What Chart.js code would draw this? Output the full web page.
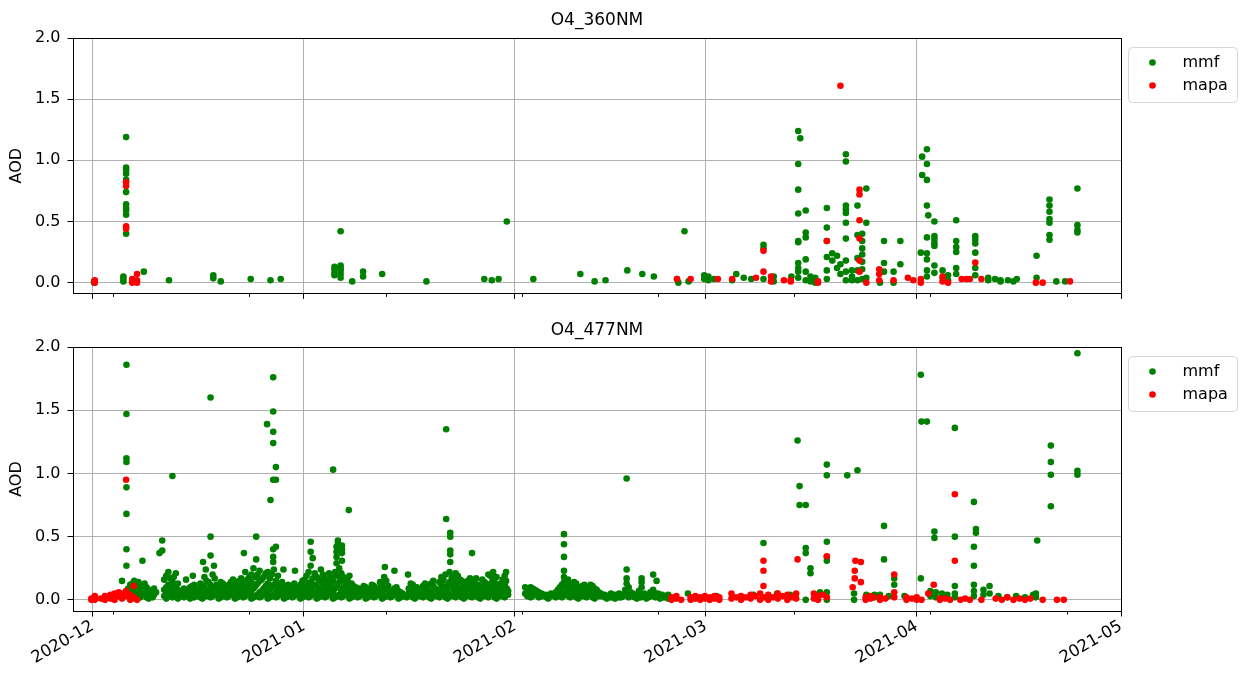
<!DOCTYPE html>
<html lang="en">
<head>
<meta charset="UTF-8">
<title>O4 AOD</title>
<script src="https://cdn.jsdelivr.net/npm/chart.js@4.4.0/dist/chart.umd.min.js"></script>
<style>
  html, body { margin: 0; padding: 0; background: #fff; }
  #wrap { position: relative; width: 1240px; height: 675px; }
  #c360 { position: absolute; left: 0; top: 0; }
  #c477 { position: absolute; left: 0; top: 310px; }
</style>
</head>
<body>
<div id="wrap">
  <canvas id="c360" width="1240" height="310"></canvas>
  <canvas id="c477" width="1240" height="365"></canvas>
</div>
<script>
// x values are days since 2020-12-01; each row is [day, aod, aod, ...]
const majorDays = [0, 31, 62, 90, 121, 151];
const majorLabels = ['2020-12', '2021-01', '2021-02', '2021-03', '2021-04', '2021-05'];
const minorDays = [3, 23, 43, 63, 83, 103, 123, 143];
const yTicks = [0, 0.5, 1.0, 1.5, 2.0];

const mmf360 = [
  [0.2, 0.0, 0.01], [4.5, 0.03, 0.05, 0.01],
  [4.9, 1.19, 0.94, 0.92, 0.89, 0.84, 0.74, 0.64, 0.61, 0.59, 0.555, 0.40],
  [7.5, 0.09], [11.2, 0.02], [17.7, 0.06, 0.035], [18.8, 0.01], [23.2, 0.03],
  [26.1, 0.02], [27.6, 0.03], [35.5, 0.13, 0.11, 0.08, 0.06],
  [36.4, 0.42, 0.14, 0.12, 0.10, 0.07, 0.04], [38.1, 0.01], [39.7, 0.09, 0.05],
  [42.5, 0.07], [49.0, 0.01], [57.5, 0.03], [58.6, 0.02], [59.6, 0.03], [60.8, 0.50],
  [64.7, 0.03], [71.6, 0.07], [73.7, 0.01], [75.3, 0.02], [78.5, 0.10], [80.7, 0.07],
  [82.4, 0.05], [85.8, 0.03], [86.0, 0.0], [86.9, 0.42], [87.5, 0.01],
  [89.8, 0.06, 0.03], [90.4, 0.05, 0.02], [91.2, 0.03], [93.9, 0.02], [94.5, 0.07],
  [95.6, 0.04], [96.7, 0.03], [98.5, 0.31, 0.28, 0.03], [100.0, 0.05, 0.01], [102.6, 0.05],
  [103.6, 1.24, 0.97, 0.76, 0.565, 0.34, 0.33, 0.16, 0.12, 0.09, 0.04], [103.9, 1.18],
  [104.7, 0.59, 0.41, 0.37, 0.19, 0.09, 0.02], [105.4, 0.05, 0.01], [106.1, 0.04, 0.0],
  [107.8, 0.61, 0.45, 0.34, 0.21, 0.10, 0.03], [108.6, 0.24, 0.18], [109.3, 0.22, 0.12],
  [109.8, 0.15, 0.07], [110.6, 1.05, 0.99, 0.63, 0.60, 0.57, 0.49, 0.36, 0.18, 0.09, 0.02],
  [111.5, 0.10, 0.02, 0.05], [112.3, 0.63, 0.39, 0.20, 0.10, 0.02],
  [113.0, 0.40, 0.34, 0.28, 0.23, 0.17, 0.11, 0.03], [113.6, 0.77, 0.49, 0.04],
  [115.6, 0.0], [116.2, 0.34, 0.16, 0.09], [117.6, 0.09, 0.0], [118.6, 0.34, 0.15],
  [121.6, 0.245], [121.8, 1.03, 0.88], [122.5, 1.09, 0.97, 0.84, 0.63, 0.37, 0.24, 0.19, 0.10, 0.05],
  [122.7, 0.55], [123.6, 0.50, 0.38, 0.35, 0.32, 0.30, 0.14, 0.08], [124.8, 0.10, 0.04],
  [125.6, 0.06, 0.02], [126.8, 0.51, 0.34, 0.29, 0.25, 0.12, 0.07],
  [129.6, 0.38, 0.35, 0.32, 0.245, 0.12, 0.06], [131.5, 0.04, 0.02], [132.5, 0.03],
  [133.3, 0.02, 0.01], [134.4, 0.02], [135.2, 0.01], [135.7, 0.03], [138.6, 0.22, 0.04],
  [140.5, 0.68, 0.63, 0.58, 0.52, 0.49, 0.39, 0.35], [141.5, 0.01], [142.8, 0.01],
  [144.6, 0.77, 0.47, 0.43, 0.41]
];

const mapa360 = [
  [0.3, 0.02, 0.0, 0.01], [4.9, 0.82, 0.79, 0.46, 0.44], [5.8, 0.03, 0.0, 0.01],
  [6.5, 0.07, 0.02, 0.0], [85.8, 0.03], [87.8, 0.03], [91.8, 0.03], [93.9, 0.03],
  [97.4, 0.04], [98.5, 0.26, 0.09], [99.6, 0.05, 0.01], [101.5, 0.02], [102.5, 0.01, 0.02],
  [106.5, 0.01, 0.0], [107.8, 0.34], [109.8, 1.61], [112.6, 0.76, 0.72, 0.51, 0.36, 0.18, 0.09],
  [113.6, 0.0], [115.5, 0.11, 0.07, 0.02], [117.6, 0.02], [119.7, 0.04], [120.5, 0.02],
  [121.6, 0.03, 0.0], [124.8, 0.05, 0.01], [125.6, 0.0], [127.6, 0.03], [128.3, 0.03],
  [128.8, 0.03], [129.6, 0.165], [130.5, 0.03], [138.5, 0.0], [139.5, 0.0], [143.5, 0.01]
];

const mmf477 = [
  // December
  [4.3, 0.15], [4.95, 1.86, 1.47, 1.12, 1.09, 0.89, 0.68, 0.40, 0.27],
  [5.2, 0.05, 0.09], [5.5, 0.02, 0.07, 0.12], [5.8, 0.01, 0.05, 0.13], [6.1, 0.04, 0.10, 0.15],
  [6.4, 0.06, 0.11], [6.7, 0.03, 0.08, 0.14], [7.0, 0.02, 0.05, 0.09],
  [7.3, 0.31, 0.05, 0.11], [7.6, 0.07, 0.13], [7.9, 0.02, 0.06, 0.10], [8.2, 0.01, 0.04, 0.08],
  [8.5, 0.03, 0.07], [8.8, 0.02, 0.05], [9.0, 0.04, 0.09], [9.3, 0.06],
  [9.8, 0.37], [10.2, 0.47, 0.39], [10.5, 0.03, 0.08, 0.16], [10.8, 0.01, 0.06, 0.10, 0.19],
  [11.1, 0.05, 0.12, 0.22], [11.4, 0.03, 0.09, 0.17], [11.7, 0.98, 0.02, 0.07, 0.14],
  [11.9, 0.05, 0.11, 0.18], [12.2, 0.04, 0.10, 0.21], [12.5, 0.01, 0.08, 0.13], [12.8, 0.03, 0.06],
  [13.1, 0.04, 0.07], [13.4, 0.02, 0.05, 0.09], [13.7, 0.16], [14.0, 0.04, 0.08],
  [14.3, 0.01, 0.06, 0.10], [14.6, 0.03, 0.06, 0.11], [14.7, 0.19], [14.9, 0.02, 0.07, 0.12],
  [15.2, 0.05, 0.09], [15.5, 0.03, 0.08], [15.8, 0.02, 0.07, 0.13], [16.1, 0.01, 0.05, 0.11],
  [16.2, 0.30], [16.4, 0.04, 0.10, 0.18], [16.6, 0.24], [16.7, 0.03, 0.08, 0.15],
  [17.0, 0.06, 0.14], [17.3, 1.60, 0.50, 0.35, 0.02, 0.07, 0.12], [17.6, 0.03, 0.09, 0.20],
  [17.8, 0.27], [17.9, 0.04, 0.10, 0.17], [18.2, 0.05, 0.12], [18.5, 0.01, 0.06, 0.09],
  [18.8, 0.02, 0.07, 0.14], [19.1, 0.03, 0.08, 0.13], [19.4, 0.04, 0.10], [19.7, 0.02, 0.05, 0.11],
  [20.0, 0.03, 0.06, 0.12], [20.3, 0.04, 0.07, 0.14], [20.6, 0.05, 0.09, 0.16],
  [20.9, 0.01, 0.06, 0.12], [21.2, 0.02, 0.07], [21.5, 0.03, 0.09, 0.15],
  [21.8, 0.04, 0.11, 0.17], [22.1, 0.02, 0.06, 0.13], [22.2, 0.37], [22.4, 0.03, 0.08, 0.22],
  [22.7, 0.04, 0.10, 0.16], [23.0, 0.05, 0.12, 0.18], [23.3, 0.01, 0.07, 0.14, 0.20],
  [23.6, 0.02, 0.09, 0.25], [23.9, 0.03, 0.11, 0.18], [24.0, 0.50, 0.32],
  [24.2, 0.04, 0.13, 0.20], [24.5, 0.02, 0.06, 0.15, 0.23], [24.8, 0.03, 0.07, 0.16],
  [25.1, 0.04, 0.09, 0.18], [25.4, 0.05, 0.11, 0.21], [25.6, 1.39], [25.7, 0.01, 0.07, 0.13, 0.22],
  [26.0, 0.02, 0.08, 0.17], [26.1, 0.79], [26.3, 0.03, 0.10, 0.20],
  [26.5, 1.76, 1.49, 1.33, 1.24, 0.95, 0.40, 0.34, 0.30], [26.6, 0.04, 0.12, 0.24],
  [26.9, 1.05, 0.95, 0.42, 0.02, 0.06, 0.15], [27.2, 0.03, 0.09, 0.19], [27.5, 0.04, 0.08, 0.12],
  [27.8, 0.05, 0.14], [28.0, 0.24], [28.1, 0.01, 0.05, 0.09], [28.4, 0.02, 0.06, 0.11],
  [28.7, 0.03, 0.07, 0.12], [29.0, 0.04, 0.09], [29.3, 0.02, 0.05, 0.10], [29.6, 0.03, 0.07, 0.13],
  [29.7, 0.23], [29.9, 0.04, 0.08], [30.2, 0.05, 0.10], [30.5, 0.01, 0.06, 0.12],
  [30.8, 0.02, 0.08, 0.15], [31.1, 0.03, 0.09, 0.16], [31.4, 0.04, 0.11, 0.19],
  [31.7, 0.02, 0.07, 0.13, 0.22],
  // January
  [32.0, 0.46, 0.38, 0.27, 0.03, 0.08, 0.14], [32.3, 0.33, 0.04, 0.10, 0.17],
  [32.6, 0.05, 0.12, 0.21], [32.9, 0.01, 0.06, 0.11, 0.18], [33.2, 0.02, 0.09, 0.16],
  [33.5, 0.03, 0.08, 0.15, 0.24], [33.8, 0.04, 0.13, 0.20], [34.1, 0.02, 0.10, 0.17],
  [34.4, 0.03, 0.07, 0.15], [34.7, 0.04, 0.08, 0.13, 0.21], [35.0, 0.05, 0.11, 0.18],
  [35.3, 1.03, 0.01, 0.06, 0.15], [35.6, 0.02, 0.09, 0.22], [35.8, 0.42, 0.38, 0.34, 0.29],
  [35.9, 0.03, 0.11, 0.19], [36.0, 0.47, 0.45], [36.2, 0.04, 0.14, 0.25],
  [36.5, 0.02, 0.07, 0.16, 0.21], [36.6, 0.43, 0.40, 0.37, 0.31], [36.8, 0.03, 0.10, 0.18],
  [37.1, 0.04, 0.09, 0.14], [37.4, 0.05, 0.12, 0.16], [37.6, 0.71], [37.7, 0.01, 0.05, 0.10, 0.19],
  [38.0, 0.02, 0.08, 0.13], [38.3, 0.03, 0.07, 0.11], [38.6, 0.04, 0.10], [38.9, 0.02, 0.06],
  [39.2, 0.03, 0.06, 0.09], [39.5, 0.04, 0.08], [39.8, 0.05, 0.11], [40.1, 0.01, 0.05, 0.10],
  [40.4, 0.02, 0.07], [40.7, 0.03, 0.06], [41.0, 0.04, 0.09, 0.12], [41.3, 0.02, 0.07, 0.11],
  [41.6, 0.03, 0.06], [41.9, 0.04, 0.08], [42.2, 0.05, 0.10, 0.14], [42.5, 0.01, 0.06, 0.12],
  [42.8, 0.02, 0.08, 0.18], [42.9, 0.26], [43.1, 0.03, 0.09, 0.15], [43.4, 0.04, 0.11],
  [43.7, 0.02, 0.06], [44.0, 0.03, 0.07], [44.3, 0.23, 0.04, 0.09], [44.6, 0.05, 0.10],
  [44.9, 0.01, 0.07], [45.2, 0.02, 0.06], [45.5, 0.03, 0.05], [45.8, 0.03], [46.1, 0.02],
  [46.3, 0.20], [46.4, 0.05, 0.09], [46.7, 0.04, 0.07, 0.13], [47.0, 0.02, 0.07, 0.12],
  [47.3, 0.01, 0.05, 0.09], [47.6, 0.04, 0.10], [47.9, 0.03, 0.08], [48.2, 0.03, 0.06],
  [48.5, 0.02, 0.07, 0.11], [48.8, 0.05, 0.09, 0.13], [49.1, 0.04, 0.10], [49.4, 0.02, 0.07],
  [49.7, 0.01, 0.06, 0.13], [50.0, 0.04, 0.11, 0.15], [50.3, 0.03, 0.09], [50.6, 0.03, 0.08],
  [50.9, 0.02, 0.07, 0.14], [51.2, 0.05, 0.12, 0.18], [51.5, 0.04, 0.10, 0.16],
  [51.8, 0.02, 0.09, 0.20], [51.9, 1.35, 0.64], [52.1, 0.01, 0.07, 0.12],
  [52.4, 0.04, 0.14, 0.22], [52.5, 0.53, 0.50, 0.39, 0.36, 0.30], [52.7, 0.03, 0.11, 0.18],
  [53.0, 0.03, 0.08, 0.17], [53.3, 0.02, 0.06, 0.14, 0.21], [53.6, 0.05, 0.11, 0.19],
  [53.9, 0.04, 0.09, 0.16], [54.2, 0.02, 0.09, 0.15], [54.5, 0.01, 0.07, 0.13],
  [54.8, 0.04, 0.12], [55.1, 0.03, 0.10, 0.15], [55.4, 0.03, 0.08, 0.17],
  [55.7, 0.37, 0.02, 0.06, 0.12], [56.0, 0.05, 0.11, 0.14], [56.3, 0.04, 0.09, 0.17],
  [56.6, 0.02, 0.07, 0.12], [56.9, 0.01, 0.05, 0.10], [57.2, 0.04, 0.10, 0.16],
  [57.5, 0.03, 0.07, 0.14], [57.8, 0.03, 0.08, 0.13], [58.1, 0.02, 0.06, 0.11, 0.20],
  [58.4, 0.05, 0.12, 0.19], [58.7, 0.04, 0.09, 0.15], [58.8, 0.22, 0.17],
  [59.0, 0.02, 0.09, 0.14], [59.3, 0.01, 0.06, 0.12, 0.18], [59.6, 0.04, 0.07, 0.11],
  [59.9, 0.03, 0.08, 0.13], [60.2, 0.03, 0.10, 0.16], [60.5, 0.02, 0.06, 0.12, 0.19],
  [60.7, 0.22, 0.15], [60.8, 0.05, 0.09], [61.0, 0.04, 0.07],
  // February
  [63.5, 0.05, 0.10], [63.8, 0.03, 0.07], [64.0, 0.04, 0.08], [64.3, 0.02, 0.06, 0.10],
  [64.6, 0.03, 0.06, 0.09], [64.9, 0.05, 0.08], [65.2, 0.04, 0.07], [65.5, 0.02, 0.06],
  [65.9, 0.03, 0.05], [66.2, 0.04], [66.6, 0.02, 0.04], [66.9, 0.01, 0.03], [67.3, 0.03, 0.05],
  [67.6, 0.04], [68.0, 0.02, 0.06], [68.3, 0.03, 0.05, 0.08], [68.6, 0.04, 0.10],
  [68.9, 0.02, 0.06, 0.12], [69.2, 0.52, 0.44, 0.34, 0.23, 0.18, 0.14], [69.5, 0.04, 0.10, 0.13],
  [69.8, 0.03, 0.08, 0.16], [70.1, 0.02, 0.06, 0.12], [70.4, 0.05, 0.11], [70.7, 0.04, 0.09, 0.14],
  [71.0, 0.02, 0.07, 0.13], [71.3, 0.01, 0.05, 0.10], [71.6, 0.04, 0.09], [71.9, 0.03, 0.07, 0.11],
  [72.2, 0.03, 0.06, 0.12], [72.5, 0.02, 0.08], [72.8, 0.05, 0.10], [73.1, 0.04, 0.09, 0.12],
  [73.4, 0.02, 0.07, 0.11], [73.7, 0.01, 0.05, 0.09], [74.0, 0.04, 0.08], [74.3, 0.03, 0.06],
  [74.6, 0.03, 0.05], [74.9, 0.04], [75.2, 0.02, 0.04], [75.5, 0.01, 0.03], [75.8, 0.03],
  [76.1, 0.02, 0.05], [76.4, 0.04, 0.02], [76.7, 0.01, 0.04], [77.0, 0.03], [77.3, 0.02, 0.05],
  [77.6, 0.02, 0.04], [77.9, 0.03], [78.2, 0.05, 0.08], [78.4, 0.96, 0.24, 0.17, 0.13],
  [78.7, 0.02, 0.04, 0.10], [79.0, 0.03, 0.06], [79.3, 0.03, 0.05], [79.6, 0.02],
  [79.9, 0.01, 0.04], [80.2, 0.04, 0.07], [80.5, 0.02, 0.05], [80.6, 0.17, 0.14, 0.10],
  [81.0, 0.03, 0.05], [81.3, 0.01, 0.04], [81.6, 0.02], [81.9, 0.03, 0.06],
  [82.3, 0.20, 0.04, 0.08], [82.6, 0.02, 0.05], [82.8, 0.15], [83.0, 0.03, 0.05],
  [83.3, 0.01, 0.04], [83.6, 0.02, 0.04], [83.9, 0.02, 0.03], [84.2, 0.03], [84.5, 0.01, 0.04],
  [84.8, 0.02],
  // March - April
  [87.4, 0.05], [91.6, 0.03], [95.0, 0.02], [97.0, 0.04],
  [98.5, 0.45], [100.5, 0.05], [102.4, 0.04], [103.5, 1.26], [103.8, 0.90, 0.75],
  [104.7, 0.75, 0.41, 0.37, 0.0], [105.4, 0.25, 0.21], [106.8, 0.06],
  [107.8, 1.07, 0.985, 0.46, 0.34, 0.31, 0.06, 0.0], [110.8, 0.985], [111.8, 0.05, 0.0],
  [112.3, 1.025], [113.6, 0.04], [113.8, 0.03], [114.8, 0.04, 0.02], [115.6, 0.04],
  [116.2, 0.585, 0.32], [116.9, 0.03], [117.7, 0.17, 0.12], [119.2, 0.03],
  [121.6, 1.78, 0.17], [121.7, 1.41], [122.5, 1.41], [123.0, 0.07, 0.03],
  [123.6, 0.54, 0.49], [123.8, 0.06, 0.02], [124.7, 0.05, 0.02], [125.5, 0.04],
  [126.6, 1.36, 0.50, 0.11, 0.05, 0.02], [129.4, 0.775, 0.42, 0.27, 0.12, 0.07, 0.03],
  [129.7, 0.56, 0.53], [130.8, 0.08, 0.04], [131.7, 0.11, 0.05], [133.0, 0.03],
  [134.3, 0.02], [135.6, 0.03], [136.9, 0.02], [138.1, 0.04], [138.5, 0.05, 0.02],
  [138.7, 0.47], [140.7, 1.22, 1.09, 0.99, 0.74], [144.6, 1.95, 1.02, 0.99]
];

const mapa477 = [
  [-0.2, 0.01, 0.0], [0.3, 0.03, 0.0, 0.02], [1.2, 0.01], [1.8, 0.03, 0.0],
  [2.6, 0.04, 0.01], [3.2, 0.05, 0.02, 0.0], [3.8, 0.06, 0.03], [4.3, 0.05, 0.01],
  [4.9, 0.95, 0.07, 0.03], [5.5, 0.04, 0.0], [6.0, 0.11, 0.02], [6.5, 0.0],
  [85.0, 0.02, 0.0], [85.7, 0.03, 0.01], [86.4, 0.0], [87.8, 0.02, 0.0], [88.5, 0.03, 0.01],
  [89.2, 0.0, 0.02], [89.9, 0.03, 0.01], [90.6, 0.0, 0.02], [91.3, 0.03, 0.01], [92.0, 0.02, 0.0],
  [93.8, 0.05, 0.01], [94.5, 0.02], [95.2, 0.0, 0.03], [95.9, 0.02], [96.6, 0.01, 0.04],
  [97.3, 0.03], [98.0, 0.0, 0.05], [98.5, 0.31, 0.23, 0.11, 0.02], [99.2, 0.04, 0.0],
  [99.9, 0.02], [100.6, 0.05, 0.01], [101.3, 0.03], [102.0, 0.0, 0.04], [102.7, 0.02],
  [103.3, 0.05, 0.01], [103.5, 0.32], [105.9, 0.05, 0.01], [106.5, 0.03, 0.0], [107.2, 0.04],
  [107.8, 0.345, 0.02], [111.6, 0.10], [111.9, 0.23, 0.17], [112.0, 0.31], [112.8, 0.30, 0.14],
  [113.5, 0.02, 0.0], [114.2, 0.03, 0.01], [114.6, 0.02], [115.6, 0.02, 0.0], [116.4, 0.01],
  [117.7, 0.20, 0.06, 0.02], [119.5, 0.02, 0.0], [120.3, 0.01], [121.0, 0.02, 0.0],
  [121.7, 0.0], [122.7, 0.05], [123.5, 0.12], [124.4, 0.01, 0.0], [125.2, 0.01],
  [125.9, 0.0], [126.6, 0.835, 0.31], [127.4, 0.0], [128.1, 0.01], [128.8, 0.0],
  [130.5, 0.0], [132.6, 0.01], [133.5, 0.0], [134.3, 0.02], [135.2, 0.0], [136.1, 0.01],
  [136.9, 0.0], [137.7, 0.01], [139.5, 0.0], [141.6, 0.0], [142.6, 0.0]
];

const toPoints = rows => rows.flatMap(([day, ...vals]) => vals.map(v => ({ x: day, y: v })));

Chart.defaults.font.family = "'DejaVu Sans', sans-serif";
Chart.defaults.font.size = 16;
Chart.defaults.color = '#000';

// black frame, short minor ticks and a boxed legend in the top-right corner
const framePlugin = {
  id: 'frame',
  afterDraw(chart) {
    const { ctx, chartArea: a, scales } = chart;
    ctx.save();
    ctx.strokeStyle = '#000';
    ctx.lineWidth = 1;
    minorDays.forEach(d => {
      const x = Math.round(scales.x.getPixelForValue(d)) + 0.5;
      ctx.beginPath();
      ctx.moveTo(x, a.bottom);
      ctx.lineTo(x, a.bottom + 3.5);
      ctx.stroke();
    });
    ctx.strokeRect(Math.round(a.left) + 0.5, Math.round(a.top) + 0.5,
      Math.round(a.right - a.left), Math.round(a.bottom - a.top));

    const bx = a.right + 7.5, by = a.top + 9.5, bw = 109, bh = 55;
    ctx.beginPath();
    ctx.roundRect(bx, by, bw, bh, 4);
    ctx.fillStyle = 'rgba(255,255,255,0.8)';
    ctx.fill();
    ctx.strokeStyle = '#d6d6d6';
    ctx.stroke();
    ctx.font = "16px 'DejaVu Sans'";
    ctx.textBaseline = 'middle';
    chart.data.datasets.forEach((ds, i) => {
      const cy = by + 15 + i * 23;
      ctx.beginPath();
      ctx.arc(bx + 24, cy, 3.3, 0, Math.PI * 2);
      ctx.fillStyle = ds.backgroundColor;
      ctx.fill();
      ctx.fillStyle = '#000';
      ctx.fillText(ds.label, bx + 54, cy);
    });
    ctx.restore();
  }
};

function makeChart(id, title, mmf, mapa, showDates, titlePad, xHeight) {
  return new Chart(document.getElementById(id), {
    type: 'scatter',
    data: {
      datasets: [
        { label: 'mmf', data: toPoints(mmf), backgroundColor: 'green', borderWidth: 0, pointRadius: 3.3, order: 1 },
        { label: 'mapa', data: toPoints(mapa), backgroundColor: 'red', borderWidth: 0, pointRadius: 3.3, order: 0 }
      ]
    },
    options: {
      responsive: false,
      animation: false,
      layout: { padding: { left: 0, right: 119, top: 0, bottom: 0 } },
      plugins: {
        legend: { display: false },
        tooltip: { enabled: false },
        title: {
          display: true, text: title, fullSize: false,
          font: { size: 17, weight: 'normal' }, color: '#000',
          padding: titlePad
        }
      },
      scales: {
        x: {
          type: 'linear', min: -2.9, max: 151,
          afterBuildTicks: s => { s.ticks = majorDays.map(v => ({ value: v })); },
          afterFit: s => { s.height = xHeight; },
          ticks: {
            display: showDates, autoSkip: false, minRotation: 30, maxRotation: 30, padding: 0,
            font: { size: 16.5 },
            callback: v => majorLabels[majorDays.indexOf(v)]
          },
          grid: { color: '#b0b0b0', lineWidth: 1, tickColor: '#000', tickLength: 5.5 },
          border: { display: false }
        },
        y: {
          min: -0.088, max: 2.0,
          afterBuildTicks: s => { s.ticks = yTicks.map(v => ({ value: v })); },
          afterFit: s => { s.width = 73; },
          ticks: { padding: 7, callback: v => v.toFixed(1) },
          grid: { color: '#b0b0b0', lineWidth: 1, tickColor: '#000', tickLength: 5.5 },
          border: { display: false },
          title: { display: true, text: 'AOD', font: { size: 16 }, padding: { top: 7, bottom: 0 } }
        }
      }
    },
    plugins: [framePlugin]
  });
}

makeChart('c360', 'O4_360NM', mmf360, mapa360, false, { top: 10, bottom: 7.6 }, 9);
makeChart('c477', 'O4_477NM', mmf477, mapa477, true, { top: 10, bottom: 6.6 }, 64);
</script>
</body>
</html>
